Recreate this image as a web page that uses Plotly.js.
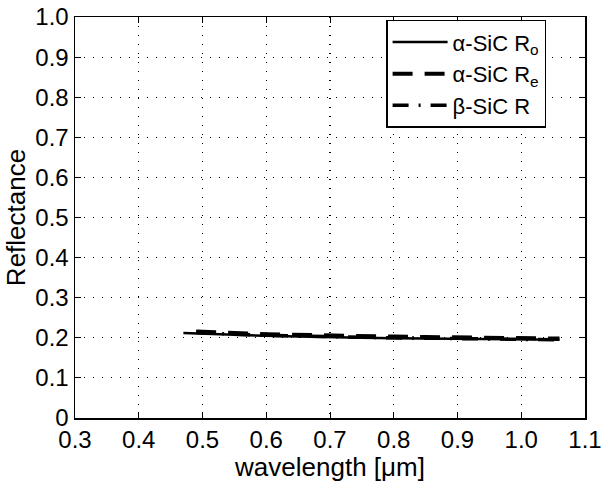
<!DOCTYPE html>
<html><head><meta charset="utf-8">
<script src="https://cdn.plot.ly/plotly-3.0.1.min.js"></script>
<style>body{margin:0;padding:0;background:#fff}#c{width:601px;height:482px}</style>
</head><body><div id="c"></div>
<script>
const wlRo = [0.47,0.50,0.55,0.60,0.65,0.70,0.75,0.80,0.85,0.90,0.95,1.00,1.06];
const ro   = [0.212,0.210,0.207,0.205,0.203,0.201,0.200,0.199,0.198,0.198,0.197,0.196,0.195];
const wlRe = [0.49,0.50,0.55,0.60,0.65,0.70,0.75,0.80,0.85,0.90,0.95,1.00,1.06];
const re   = [0.216,0.215,0.212,0.209,0.207,0.205,0.204,0.203,0.202,0.201,0.200,0.199,0.198];
const wlB  = [0.49,0.50,0.55,0.60,0.65,0.70,0.75,0.80,0.85,0.90,0.95,1.00,1.06];
const rb   = [0.213,0.212,0.209,0.206,0.204,0.202,0.201,0.200,0.199,0.198,0.197,0.196,0.195];
const names = ['α-SiC R<sub>o</sub>','α-SiC R<sub>e</sub>','β-SiC R'];
const xTicks = [0.3,0.4,0.5,0.6,0.7,0.8,0.9,1.0,1.1];
const xTickText = ['0.3','0.4','0.5','0.6','0.7','0.8','0.9','1.0','1.1'];
const yTicks = [0,0.1,0.2,0.3,0.4,0.5,0.6,0.7,0.8,0.9,1.0];
const yTickText = ['0','0.1','0.2','0.3','0.4','0.5','0.6','0.7','0.8','0.9','1.0'];

const F = 'Liberation Sans, Arial, sans-serif';
const traces = [
  {x: wlRo, y: ro, name: names[0], mode:'lines', line:{color:'#000', width:2.5, dash:'solid'}},
  {x: wlRe, y: re, name: names[1], mode:'lines', line:{color:'#000', width:4, dash:'20px,12px'}},
  {x: wlB,  y: rb, name: names[2], mode:'lines', line:{color:'#000', width:3.5, dash:'16px,10px,2px,10px'}}
];
const ax = {
  showline:true, mirror:'ticks', linecolor:'#000', linewidth:1.5,
  ticks:'inside', ticklen:6, tickcolor:'#000', tickwidth:1,
  showgrid:true, gridcolor:'#000', griddash:'1px,8px', gridwidth:1.2,
  zeroline:false, ticklabeloverflow:'allow', tickfont:{family:F, size:24, color:'#000'}
};
const layout = {
  width:601, height:482,
  margin:{l:75, r:16, t:17, b:64},
  paper_bgcolor:'#fff', plot_bgcolor:'#fff',
  showlegend:true,
  legend:{x:0.61, y:0.993, xanchor:'left', yanchor:'top', bgcolor:'#fff',
    bordercolor:'#000', borderwidth:1.5, font:{family:F, size:22, color:'#000'},
    tracegroupgap:0, itemwidth:55},
  xaxis: Object.assign({}, ax, {range:[0.3,1.1], tickvals:xTicks, ticktext:xTickText,
    title:{text:'wavelength [μm]', font:{family:F, size:26, color:'#000'}, standoff:6}}),
  yaxis: Object.assign({}, ax, {range:[0,1.0], tickvals:yTicks, ticktext:yTickText,
    title:{text:'Reflectance', font:{family:F, size:26, color:'#000'}, standoff:2}})
};
Plotly.newPlot('c', traces, layout, {displayModeBar:false, staticPlot:true});
</script></body></html>
